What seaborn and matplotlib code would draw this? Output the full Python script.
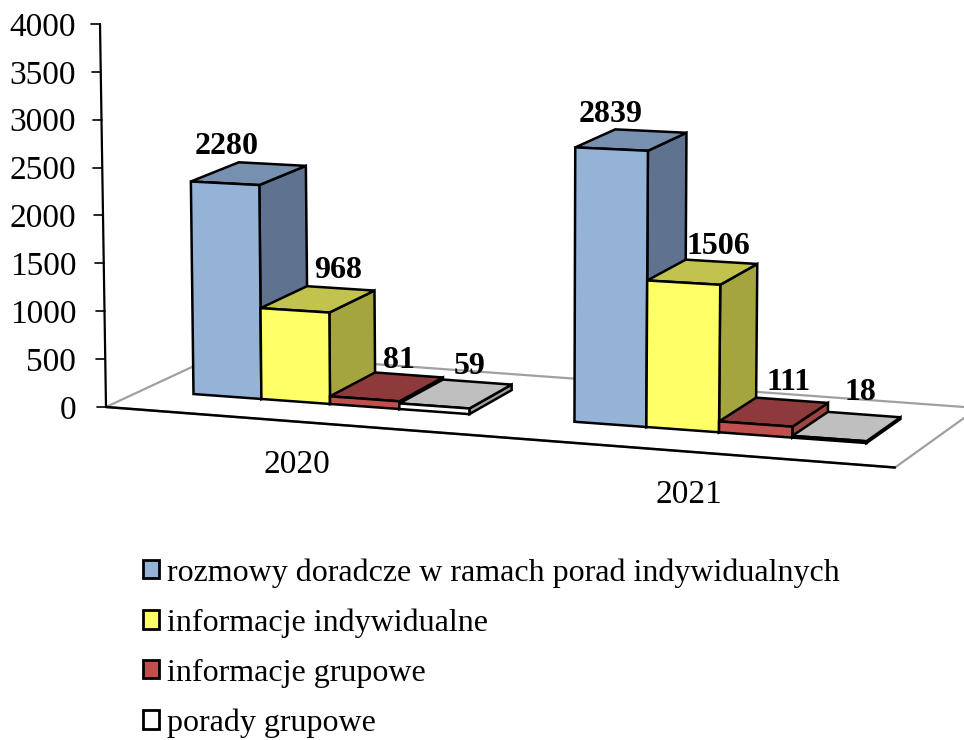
import numpy as np
import pandas as pd
import matplotlib
matplotlib.use('Agg')
import matplotlib.pyplot as plt
import seaborn as sns
from matplotlib.patches import Patch, Polygon
from matplotlib.transforms import Transform, IdentityTransform, blended_transform_factory

years = ['2020', '2021']
series = ['rozmowy doradcze w ramach porad indywidualnych', 'informacje indywidualne',
          'informacje grupowe', 'porady grupowe']
rozmowy = [2280, 2839]
inf_indyw = [968, 1506]
inf_grup = [81, 111]
porady = [59, 18]
y_ticks = [0, 500, 1000, 1500, 2000, 2500, 3000, 3500, 4000]

front_cols = ['#95B3D7', '#FFFF66', '#C0504D', '#FFFFFF']
top_cols = ['#7790B0', '#C2C24F', '#8F3A3A', '#BFBFBF']
side_cols = ['#5F7390', '#A5A53F', '#A04440', '#A0A0A0']

W, H = 964, 740
# label centres in pixels, same order as the bars
label_xy = [(227, 147), (611, 114), (338, 271), (718, 247), (399, 360), (789, 382), (470, 366), (860, 392)]


def project(x, v, d=0.0):
    # fake 3d view: data x, value and depth (0 front, 1 back) -> display pixels
    x, v = np.asarray(x, float), np.asarray(v, float)
    px = 330 + 378 * x + 11 * x ** 2
    py = 394 + 0.0728 * (px - 193)
    s = 0.0935 + (px - 225) * 0.9e-5
    lean = (px - 500) * 3.75e-6 * v
    dx = (48 - (px - 190) * 0.0207) * d
    dy = -(24 - v * 0.0021) * d
    return px + lean + dx, H - (py - s * v + dy)


class Tilt(Transform):
    input_dims = 2
    output_dims = 2

    def transform_non_affine(self, values):
        values = np.asarray(values, float)
        return np.column_stack(project(values[:, 0], values[:, 1]))


df = pd.DataFrame({'rok': years * 4,
                   'seria': np.repeat(series, 2),
                   'liczba': rozmowy + inf_indyw + inf_grup + porady})

sns.set_theme(style='white')
plt.rcParams['font.family'] = ['Liberation Serif', 'DejaVu Serif']

fig = plt.figure(figsize=(W / 100, H / 100), dpi=100)
ax = fig.add_axes([102 / W, (H - 407) / H, 300 / W, 383 / H])
ax.patch.set_alpha(0)
sns.barplot(data=df, x='rok', y='liczba', hue='seria', hue_order=series, palette=front_cols,
            saturation=1, width=0.73, edgecolor='black', linewidth=1.8, legend=False, ax=ax)

screen = IdentityTransform()
tilt = Tilt()


def px(x, y):
    return x, H - y


# floor of the chart
floor_grey = [(106, 407), (222, 353), (978, 408), (895, 467.5)]
ax.add_patch(Polygon([px(*p) for p in floor_grey], closed=True, fill=False, edgecolor='#A0A0A0',
                     linewidth=1.6, transform=screen, clip_on=False, zorder=0.5))
ax.plot(*zip(px(106, 407), px(895, 467.5)), color='black', lw=1.8, transform=screen, clip_on=False, zorder=0.6)

# y axis leans a little, ticks go with it
yx = blended_transform_factory(screen, ax.transData)
ax.plot([106, 100], [0, 4000], color='black', lw=1.6, transform=yx, clip_on=False, zorder=0.6)
for t in y_ticks:
    xt = 106 - 6 * t / 4000
    ax.plot([xt - 9, xt], [t, t], color='black', lw=1.2, transform=yx, clip_on=False, zorder=0.6)

# side and top faces from the bars seaborn made
for i, cont in enumerate(ax.containers):
    for bar in cont:
        x0, x1, v = bar.get_x(), bar.get_x() + bar.get_width(), bar.get_height()
        z = 2 + i
        side = [project(x1, 0, 0), project(x1, 0, 1), project(x1, v, 1), project(x1, v, 0)]
        top = [project(x0, v, 0), project(x0, v, 1), project(x1, v, 1), project(x1, v, 0)]
        ax.add_patch(Polygon(side, closed=True, facecolor=side_cols[i], edgecolor='black', linewidth=1.8,
                             transform=screen, clip_on=False, zorder=z))
        ax.add_patch(Polygon(top, closed=True, facecolor=top_cols[i], edgecolor='black', linewidth=1.8,
                             transform=screen, clip_on=False, zorder=z + 0.1))
        bar.set_transform(tilt)
        bar.set_clip_on(False)
        bar.set_zorder(z + 0.2)

ax.set_ylim(0, 4000)
ax.set_xlabel('')
ax.set_ylabel('')
ax.set_xticks([])
ax.set_yticks(y_ticks)
ax.tick_params(axis='y', length=0, pad=18.5, labelsize=24, labelcolor='black')
sns.despine(ax=ax, left=True, bottom=True)

# value labels
values = rozmowy + inf_indyw + inf_grup + porady
for val, (lx, ly) in zip(values, label_xy):
    ax.text(lx, H - ly, str(val), transform=screen, ha='center', va='center', fontsize=23,
            fontweight='bold', color='black', zorder=10, clip_on=False)

# year labels sit under the front floor line
for i, yr in enumerate(years):
    cx, cy = project(i, 0)
    ax.text(cx - 33 + 3 * i, cy - 61 - i, yr, transform=screen, ha='center', va='center', fontsize=24,
            color='black', clip_on=False)

handles = [Patch(facecolor=c, edgecolor='black', linewidth=2) for c in front_cols]
fig.legend(handles, series, loc='upper left', bbox_to_anchor=(143 / W, 1 - 558 / H), frameon=False,
           fontsize=23, labelspacing=0.65, handlelength=0.5, handleheight=0.5, handletextpad=0.25,
           borderpad=0, borderaxespad=0, labelcolor='black')

fig.savefig('out.png', dpi=100)
